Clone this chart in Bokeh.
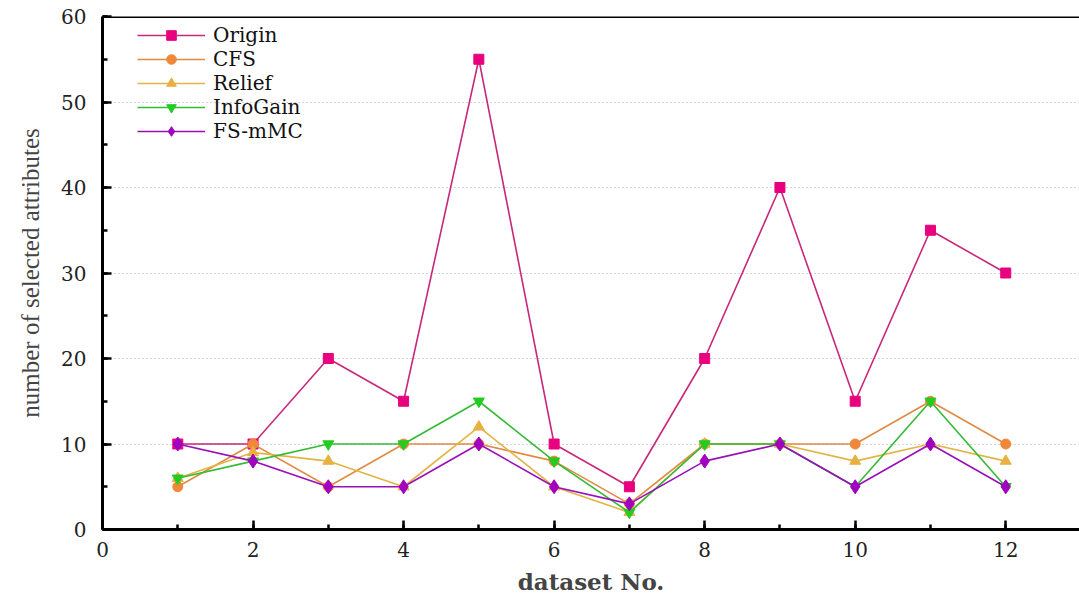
from bokeh.plotting import figure
from bokeh.models import Range1d, SingleIntervalTicker, Legend, Span
from bokeh.embed import file_html
from bokeh.resources import INLINE

datasets = [1, 2, 3, 4, 5, 6, 7, 8, 9, 10, 11, 12]
origin = [10, 10, 20, 15, 55, 10, 5, 20, 40, 15, 35, 30]
cfs = [5, 10, 5, 10, 10, 8, 3, 10, 10, 10, 15, 10]
relief = [6, 9, 8, 5, 12, 5, 2, 10, 10, 8, 10, 8]
infogain = [6, 8, 10, 10, 15, 8, 2, 10, 10, 5, 15, 5]
fsmmc = [10, 8, 5, 5, 10, 5, 3, 8, 10, 5, 10, 5]

series = [
    ("Origin", origin, "#c8287a", "#e8007e", "square", 10),
    ("CFS", cfs, "#e08a44", "#f0883a", "circle", 10),
    ("Relief", relief, "#e2b446", "#e8b040", "triangle", 11),
    ("InfoGain", infogain, "#33bb33", "#22cc22", "inverted_triangle", 11),
    ("FS-mMC", fsmmc, "#9a10b8", "#a000c0", "diamond", 14),
]

p = figure(width=1079, height=597, output_backend="svg", toolbar_location=None,
           x_range=Range1d(0, 12.98), y_range=Range1d(0, 60),
           min_border_left=102, min_border_right=0, min_border_top=16, min_border_bottom=64)
p.outline_line_color = None
p.background_fill_color = "white"

items = []
for name, ys, lc, mc, mk, sz in series:
    r1 = p.line(datasets, ys, line_color=lc, line_width=1.6)
    r2 = p.scatter(datasets, ys, marker=mk, size=sz, fill_color=mc, line_color=mc)
    items.append((name, [r1, r2]))

legend = Legend(items=items, location=(35, 386), border_line_color=None,
                background_fill_alpha=0, padding=0, spacing=0, margin=0,
                glyph_width=68, glyph_height=24, label_height=24, label_standoff=8,
                label_text_font="DejaVu Serif", label_text_font_size="20px",
                label_text_color="#111111")
p.add_layout(legend, "center")

serif = "DejaVu Serif"
p.xaxis.ticker = SingleIntervalTicker(interval=2, num_minor_ticks=2)
p.yaxis.ticker = SingleIntervalTicker(interval=10, num_minor_ticks=2)
for ax in (p.xaxis[0], p.yaxis[0]):
    ax.axis_line_width = 3
    ax.axis_line_color = "black"
    ax.major_tick_in = 9
    ax.major_tick_out = 0
    ax.minor_tick_in = 5
    ax.minor_tick_out = 0
    ax.major_tick_line_width = 2.5
    ax.minor_tick_line_width = 2.5
    ax.major_label_text_font = serif
    ax.major_label_text_font_size = "20px"
    ax.major_label_text_color = "#222222"
p.yaxis.major_label_standoff = 16
p.xaxis.major_label_standoff = 12

p.xaxis.axis_label = "dataset No."
p.xaxis.axis_label_text_font = serif
p.xaxis.axis_label_text_font_style = "bold"
p.xaxis.axis_label_text_font_size = "23px"
p.xaxis.axis_label_standoff = 8
p.yaxis.axis_label = "number of selected attributes"
p.yaxis.axis_label_text_font = "Liberation Serif"
p.yaxis.axis_label_text_font_style = "normal"
p.yaxis.axis_label_text_font_size = "25px"
p.yaxis.axis_label_standoff = 14

p.xgrid.grid_line_color = None
p.ygrid.grid_line_color = "#aaaaaa"
p.ygrid.grid_line_dash = "1 3"
p.ygrid.grid_line_width = 1

p.add_layout(Span(location=60, dimension="width", line_color="black", line_width=3))

open("out.html", "w").write(file_html(p, INLINE))
